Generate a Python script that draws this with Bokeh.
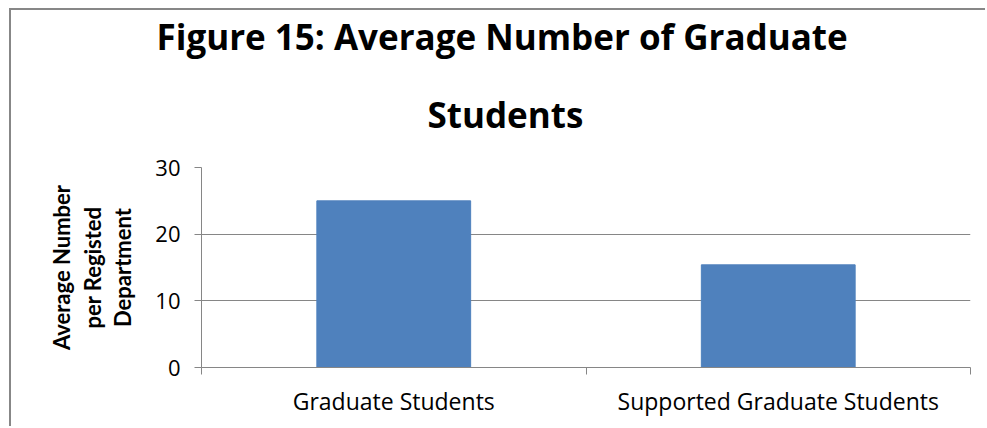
from bokeh.plotting import figure
from bokeh.models import FixedTicker, Range1d, Title
from bokeh.embed import file_html
from bokeh.resources import INLINE

categories = ["Graduate Students", "Supported Graduate Students"]
values = [25.0, 15.4]
y_ticks = [0, 10, 20, 30]
title_lines = ["Figure 15: Average Number of Graduate", "Students"]
y_label = "Average Number\nper Registed\nDepartment"

GRID = "#868686"
BAR = "#4F81BD"
FONT = "Open Sans"
BFONT = "Lato"

W, H = 976, 418
p = figure(width=W, height=H, output_backend="svg", toolbar_location=None,
           x_range=Range1d(0, len(categories)), y_range=Range1d(0, 30),
           min_border_left=190, min_border_right=17, min_border_top=157,
           min_border_bottom=61)
p.styles = {"margin-left": "9px", "margin-top": "8px",
            "border-left": "2px solid #878787", "border-top": "2px solid #878787"}
p.outline_line_color = None
p.background_fill_color = "white"
p.border_fill_color = "white"

xs = [i + 0.5 for i in range(len(categories))]
p.vbar(x=xs, top=values, width=0.4, bottom=0, fill_color=BAR, line_color=BAR)

# x axis
p.xaxis.ticker = FixedTicker(ticks=xs, minor_ticks=list(range(len(categories) + 1)))
p.xaxis.major_label_overrides = {x: c for x, c in zip(xs, categories)}
p.xaxis.major_tick_line_color = None
p.xaxis.major_tick_out = 0
p.xaxis.major_tick_in = 0
p.xaxis.minor_tick_line_color = GRID
p.xaxis.minor_tick_out = 7
p.xaxis.minor_tick_in = 0
p.xaxis.axis_line_color = GRID
p.xaxis.major_label_text_font = FONT
p.xaxis.major_label_text_font_size = "23px"
p.xaxis.major_label_text_color = "black"
p.xaxis.major_label_standoff = 10
p.xgrid.grid_line_color = None

# y axis
p.yaxis.ticker = FixedTicker(ticks=y_ticks)
p.yaxis.minor_tick_line_color = None
p.yaxis.major_tick_line_color = GRID
p.yaxis.major_tick_out = 7
p.yaxis.major_tick_in = 0
p.yaxis.axis_line_color = GRID
p.yaxis.major_label_text_font = FONT
p.yaxis.major_label_text_font_size = "22px"
p.yaxis.major_label_text_color = "black"
p.yaxis.major_label_standoff = 14
p.yaxis.axis_label = y_label
p.yaxis.axis_label_text_font = BFONT
p.yaxis.axis_label_text_font_size = "22px"
p.yaxis.axis_label_text_font_style = "bold"
p.yaxis.axis_label_text_line_height = 1.13
p.yaxis.axis_label_text_color = "black"
p.yaxis.axis_label_standoff = 16
p.ygrid.grid_line_color = GRID
p.ygrid.grid_line_width = 1

# title: two stacked lines (later-added sits higher)
p.add_layout(Title(text=title_lines[1], align="left", offset=226, standoff=59,
                   text_font=FONT, text_font_size="35px",
                   text_font_style="bold", text_color="black"), "above")
p.add_layout(Title(text=title_lines[0], align="left", offset=-45, standoff=0,
                   text_font=FONT, text_font_size="35px",
                   text_font_style="bold", text_color="black"), "above")

open("out.html", "w").write(file_html(p, INLINE))
